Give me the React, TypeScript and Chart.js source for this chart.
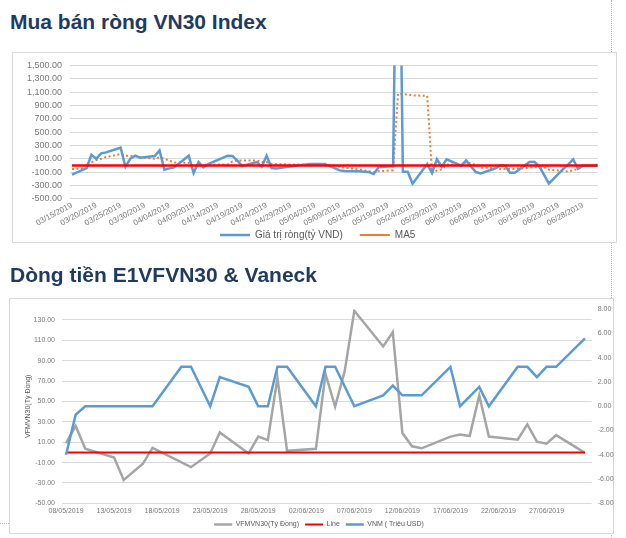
import React, { useEffect, useRef } from "react";
import { Chart, registerables } from "chart.js";

Chart.register(...registerables);

const FONT = '"Liberation Sans", Arial, sans-serif';

// ---------- Top chart: Mua bán ròng VN30 Index ----------
const topDates = [
  "03/15", "03/18", "03/19", "03/20", "03/21", "03/22", "03/25", "03/26", "03/27", "03/28", "03/29",
  "04/01", "04/02", "04/03", "04/04", "04/05", "04/08", "04/09", "04/10", "04/11", "04/12",
  "04/16", "04/17", "04/18", "04/19", "04/22", "04/23", "04/24", "04/25", "04/26",
  "05/02", "05/03", "05/06", "05/07", "05/08", "05/09", "05/10", "05/13", "05/14", "05/15", "05/16", "05/17",
  "05/20", "05/21", "05/22", "05/23", "05/24", "05/27", "05/28", "05/29", "05/30", "05/31",
  "06/03", "06/04", "06/05", "06/06", "06/07", "06/10", "06/11", "06/12", "06/13", "06/14",
  "06/17", "06/18", "06/19", "06/20", "06/21", "06/24", "06/25", "06/26", "06/27", "06/28", "07/01",
];
const netValues = [
  -140, -40, 160, 100, 180, 195, 265, -20, 100, 145, 115,
  140, 225, -65, -45, -30, 145, -115, 50, -30, 20,
  145, 140, 70, -10, 50, -20, 145, -40, -45,
  15, 20, 20, -10, -40, -75, -85, -90, -95, -100, -130, -30,
  -10, 5600, -95, -95, -275, 20, -115, 90, -20, 90,
  -5, 75, -15, -100, -120, -45, 0, -5, -110, -110,
  50, 55, -10, -140, -275, -50, 15, 90, -50, -5, -5,
];
const ma5Values = [
  -55, -45, 45, 80, 100, 125, 170, 145, 145, 137, 121,
  100, 120, 100, 70, 45, 40, -15, 0, 5, 10,
  15, 60, 70, 75, 75, 50, 50, 25, 18,
  10, 15, 0, 0, 0, -17, -38, -60, -75, -88, -100, -89,
  -73, 1075, 1068, 1062, 1050, 1043, -112, -75, -60, 13,
  8, 46, 25, 9, -33, -41, -56, -54, -56, -54,
  -35, -24, -25, -31, -64, -84, -92, -72, -54, 0, 9,
];
const topYTicks = [-500, -300, -100, 100, 300, 500, 700, 900, 1100, 1300, 1500];
const topXTickLabels = [
  "03/15/2019", "03/20/2019", "03/25/2019", "03/30/2019", "04/04/2019", "04/09/2019",
  "04/14/2019", "04/19/2019", "04/24/2019", "04/29/2019", "05/04/2019", "05/09/2019",
  "05/14/2019", "05/19/2019", "05/24/2019", "05/29/2019", "06/03/2019", "06/08/2019",
  "06/13/2019", "06/18/2019", "06/23/2019", "06/28/2019",
];
const topZeroLevel = 0;

// ---------- Bottom chart: Dòng tiền E1VFVN30 & Vaneck ----------
const bottomDates = [
  "08/05", "09/05", "10/05", "13/05", "14/05", "16/05", "17/05", "20/05", "21/05", "23/05",
  "24/05", "27/05", "28/05", "29/05", "30/05", "31/05", "03/06", "04/06", "05/06", "06/06",
  "07/06", "10/06", "11/06", "12/06", "13/06", "14/06", "17/06", "18/06", "19/06", "20/06",
  "21/06", "24/06", "25/06", "26/06", "27/06", "28/06", "01/07",
];
const vfmvn30Values = [
  9, 26, 3.5, -5, -27, -11, 4.5, null, -14.5, -1,
  19.5, -1, 15.5, 12, 73, 1.5, 3.5, 77, 45, 80,
  139, 104, 118, 19, 6, 4, 15.5, 17.5, 16, 56,
  15.5, 12.5, 27.5, 10.5, 8.5, 17, -0.5,
];
const vnmValues = [
  -4.0, -0.7, 0, 0, 0, 0, 0, 3.25, 3.25, 0,
  2.4, 1.6, 0, 0, 3.25, 3.25, 0, 3.25, 3.25, null,
  0, 0.9, 1.7, 0.9, 0.9, 0.9, 3.25, 0, null, 1.6,
  0, 3.25, 3.25, 2.4, 3.25, 3.25, 5.6,
];
const bottomLeftTicks = [-50, -30, -10, 10, 30, 50, 70, 90, 110, 130];
const bottomRightTicks = [-8, -6, -4, -2, 0, 2, 4, 6, 8];
const bottomXTickLabels = [
  "08/05/2019", "13/05/2019", "18/05/2019", "23/05/2019", "28/05/2019", "02/06/2019",
  "07/06/2019", "12/06/2019", "17/06/2019", "22/06/2019", "27/06/2019",
];
const bottomLineLevel = 0;

// ---------- date helpers ----------
const DAY = 86400000;
const topBase = Date.UTC(2019, 2, 15);
const topDay = (mmdd: string) => {
  const [m, d] = mmdd.split("/").map(Number);
  return Math.round((Date.UTC(2019, m - 1, d) - topBase) / DAY);
};
const bottomBase = Date.UTC(2019, 4, 8);
const bottomDay = (ddmm: string) => {
  const [d, m] = ddmm.split("/").map(Number);
  return Math.round((Date.UTC(2019, m - 1, d) - bottomBase) / DAY);
};

const topXLabelMap = new Map<number, string>(topXTickLabels.map((l) => [topDay(l.slice(0, 5)), l]));
const bottomXLabelMap = new Map<number, string>(bottomXTickLabels.map((l) => [bottomDay(l.slice(0, 5)), l]));

const TICK_COLOR = "#7a7a7a";
const GRID_COLOR = "#d9d9d9";

const legendShift = (dx: number, dy: number) => ({
  id: "legendShift",
  afterLayout(chart: any) {
    const lg = chart.legend;
    if (lg) {
      lg.left += dx;
      lg.right += dx;
      lg.top += dy;
      lg.bottom += dy;
    }
  },
});

export default function App() {
  const topRef = useRef<HTMLCanvasElement>(null);
  const botRef = useRef<HTMLCanvasElement>(null);

  useEffect(() => {
    const topFirst = topDay(topDates[0]);
    const topLast = topDay(topDates[topDates.length - 1]);
    const top = new Chart(topRef.current as HTMLCanvasElement, {
      type: "line",
      data: {
        datasets: [
          {
            label: "zero",
            data: [
              { x: topFirst, y: topZeroLevel },
              { x: topLast, y: topZeroLevel },
            ],
            borderColor: "#ff0000",
            backgroundColor: "#ff0000",
            borderWidth: 2.5,
            pointRadius: 0,
            order: 0,
          },
          {
            label: "Giá trị ròng(tỷ VND)",
            data: topDates.map((d, i) => ({ x: topDay(d), y: netValues[i] })),
            borderColor: "#5b9bd5",
            backgroundColor: "#5b9bd5",
            borderWidth: 2.5,
            pointRadius: 0,
            tension: 0,
            order: 1,
          },
          {
            label: "MA5",
            data: topDates.map((d, i) => ({ x: topDay(d), y: ma5Values[i] })),
            borderColor: "#ed7d31",
            backgroundColor: "#ed7d31",
            borderWidth: 2,
            borderDash: [2, 2.5],
            pointRadius: 0,
            tension: 0,
            order: 2,
          },
        ],
      },
      options: {
        animation: false,
        responsive: false,
        maintainAspectRatio: false,
        layout: { padding: { left: 0, right: 19, top: 6.7, bottom: 0 } },
        plugins: {
          tooltip: { enabled: false },
          legend: {
            position: "bottom",
            labels: {
              filter: (item: any) => item.datasetIndex !== 0,
              usePointStyle: true,
              pointStyle: "line",
              pointStyleWidth: 30,
              boxHeight: 10,
              padding: 17,
              color: "#595959",
              font: { family: FONT, size: 10 },
            },
          },
        },
        scales: {
          x: {
            type: "linear",
            min: -0.4,
            max: 108.1,
            afterBuildTicks: (scale: any) => {
              scale.ticks = topXTickLabels.map((l) => ({ value: topDay(l.slice(0, 5)) }));
            },
            afterFit: (scale: any) => {
              scale.height = 29.3;
            },
            ticks: {
              autoSkip: false,
              minRotation: 28,
              maxRotation: 28,
              padding: 2,
              color: TICK_COLOR,
              font: { family: FONT, size: 8 },
              callback: (v: any) => topXLabelMap.get(Math.round(Number(v))) ?? "",
            },
            grid: { display: false, drawTicks: false },
            border: { display: false },
          },
          y: {
            type: "linear",
            min: -500,
            max: 1500,
            afterBuildTicks: (scale: any) => {
              scale.ticks = topYTicks.map((v) => ({ value: v }));
            },
            afterFit: (scale: any) => {
              scale.width = 58;
            },
            ticks: {
              autoSkip: false,
              padding: 8,
              color: TICK_COLOR,
              font: { family: FONT, size: 9 },
              callback: (v: any) =>
                Number(v).toLocaleString("en-US", { minimumFractionDigits: 2, maximumFractionDigits: 2 }),
            },
            grid: { color: GRID_COLOR, lineWidth: 1, drawTicks: false },
            border: { display: false },
          },
        },
      },
      plugins: [legendShift(12.7, -15)],
    } as any);

    const botFirst = bottomDay(bottomDates[0]);
    const botLast = bottomDay(bottomDates[bottomDates.length - 1]);
    const bot = new Chart(botRef.current as HTMLCanvasElement, {
      type: "line",
      data: {
        datasets: [
          {
            label: "VFMVN30(Tỷ Đồng)",
            data: bottomDates.map((d, i) => ({ x: bottomDay(d), y: vfmvn30Values[i] })),
            borderColor: "#a5a5a5",
            backgroundColor: "#a5a5a5",
            borderWidth: 2.5,
            pointRadius: 0,
            tension: 0,
            spanGaps: true,
            yAxisID: "y",
            order: 2,
          },
          {
            label: "Line",
            data: [
              { x: botFirst, y: bottomLineLevel },
              { x: botLast, y: bottomLineLevel },
            ],
            borderColor: "#ff0000",
            backgroundColor: "#ff0000",
            borderWidth: 2,
            pointRadius: 0,
            yAxisID: "y",
            order: 1,
          },
          {
            label: "VNM ( Triệu USD)",
            data: bottomDates.map((d, i) => ({ x: bottomDay(d), y: vnmValues[i] })),
            borderColor: "#5b9bd5",
            backgroundColor: "#5b9bd5",
            borderWidth: 2.5,
            pointRadius: 0,
            tension: 0,
            spanGaps: true,
            yAxisID: "y1",
            order: 0,
          },
        ],
      },
      options: {
        animation: false,
        responsive: false,
        maintainAspectRatio: false,
        layout: { padding: { left: 0, right: 0, top: 7, bottom: 0 } },
        plugins: {
          tooltip: { enabled: false },
          legend: {
            position: "bottom",
            labels: {
              sort: (a: any, b: any) => a.datasetIndex - b.datasetIndex,
              usePointStyle: true,
              pointStyle: "line",
              pointStyleWidth: 18,
              boxHeight: 7,
              padding: 6,
              color: "#595959",
              font: { family: FONT, size: 7 },
            },
          },
        },
        scales: {
          x: {
            type: "linear",
            min: -0.42,
            max: 54.7,
            afterBuildTicks: (scale: any) => {
              scale.ticks = bottomXTickLabels.map((l) => ({ value: bottomDay(l.slice(0, 5)) }));
            },
            afterFit: (scale: any) => {
              scale.height = 11.7;
            },
            ticks: {
              autoSkip: false,
              maxRotation: 0,
              minRotation: 0,
              padding: 4,
              color: TICK_COLOR,
              font: { family: FONT, size: 7 },
              callback: (v: any) => bottomXLabelMap.get(Math.round(Number(v))) ?? "",
            },
            grid: { display: false, drawTicks: false },
            border: { display: false },
          },
          y: {
            type: "linear",
            position: "left",
            min: -50,
            max: 140.6,
            afterBuildTicks: (scale: any) => {
              scale.ticks = bottomLeftTicks.map((v) => ({ value: v }));
            },
            afterFit: (scale: any) => {
              scale.width = 53;
            },
            title: {
              display: true,
              text: "VFMVN30(Tỷ Đồng)",
              color: "#595959",
              font: { family: FONT, size: 7 },
              padding: { top: 15.3, bottom: 0 },
            },
            ticks: {
              autoSkip: false,
              padding: 7,
              color: TICK_COLOR,
              font: { family: FONT, size: 7 },
              callback: (v: any) => Number(v).toFixed(2),
            },
            grid: { color: GRID_COLOR, lineWidth: 1, drawTicks: false },
            border: { display: false },
          },
          y1: {
            type: "linear",
            position: "right",
            min: -8,
            max: 8,
            afterBuildTicks: (scale: any) => {
              scale.ticks = bottomRightTicks.map((v) => ({ value: v }));
            },
            afterFit: (scale: any) => {
              scale.width = 22.3;
            },
            ticks: {
              autoSkip: false,
              padding: 6,
              color: TICK_COLOR,
              font: { family: FONT, size: 7 },
              callback: (v: any) => Number(v).toFixed(2),
            },
            grid: { display: false, drawTicks: false },
            border: { display: false },
          },
        },
      },
      plugins: [legendShift(7.5, 0)],
    } as any);

    return () => {
      top.destroy();
      bot.destroy();
    };
  }, []);

  const titleStyle: React.CSSProperties = {
    position: "absolute",
    left: 10,
    margin: 0,
    fontFamily: FONT,
    fontWeight: 700,
    fontSize: 21,
    lineHeight: "21px",
    color: "#1f3b63",
    whiteSpace: "nowrap",
  };
  const frame = (left: number, top: number, width: number, height: number): React.CSSProperties => ({
    position: "absolute",
    left,
    top,
    width,
    height,
    boxSizing: "border-box",
    border: "1px solid #d9d9d9",
    background: "#ffffff",
  });

  return (
    <div
      style={{
        position: "absolute",
        left: 0,
        top: 0,
        width: 626,
        height: 538,
        overflow: "hidden",
        background: "#ffffff",
      }}
    >
      <div style={{ position: "absolute", left: 611, top: 0, width: 0, height: 538, borderLeft: "1px dotted #8fb8e0" }} />
      <div style={{ position: "absolute", left: 0, top: 523, width: 9, height: 0, borderTop: "1px dotted #8fb8e0" }} />

      <div style={frame(12, 52, 605, 191)} />
      <canvas
        ref={topRef}
        width={605}
        height={213}
        style={{ position: "absolute", left: 12, top: 52, width: 605, height: 213 }}
      />
      <div style={frame(9, 298, 605, 236)} />
      <canvas
        ref={botRef}
        width={605}
        height={240}
        style={{ position: "absolute", left: 9, top: 298, width: 605, height: 240 }}
      />

      <div style={{ ...titleStyle, top: 10.5 }}>Mua bán ròng VN30 Index</div>
      <div style={{ ...titleStyle, top: 264 }}>Dòng tiền E1VFVN30 &amp; Vaneck</div>
    </div>
  );
}
